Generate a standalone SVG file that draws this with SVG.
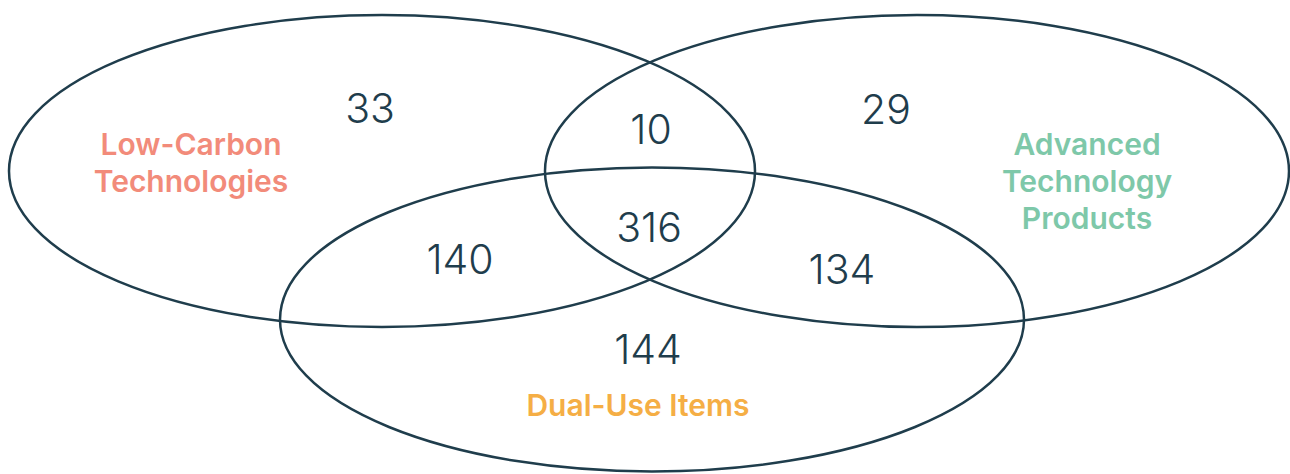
<svg xmlns="http://www.w3.org/2000/svg" width="1290" height="474" viewBox="0 0 1290 474">
<style>
.set{fill:none;stroke:#1f3d4c;stroke-width:2.5}
.num{font-family:Inter,"Liberation Sans",sans-serif;font-weight:300;font-size:41px;fill:#1f3d4c;text-anchor:middle}
.lbl{font-family:Inter,"Liberation Sans",sans-serif;font-weight:600;font-size:30px;text-anchor:middle}
</style>
<rect width="1290" height="474" fill="#ffffff"/>
<g id="set-low-carbon">
<ellipse class="set" cx="382" cy="171" rx="373" ry="156"/>
<text class="lbl" fill="#f28b7a" x="191" y="155">Low-Carbon</text>
<text class="lbl" fill="#f28b7a" x="191" y="192">Technologies</text>
</g>
<g id="set-advanced">
<ellipse class="set" cx="917" cy="171" rx="372" ry="156"/>
<text class="lbl" fill="#7ec8a9" x="1087" y="155">Advanced</text>
<text class="lbl" fill="#7ec8a9" x="1087" y="192">Technology</text>
<text class="lbl" fill="#7ec8a9" x="1087" y="229">Products</text>
</g>
<g id="set-dual-use">
<ellipse class="set" cx="652" cy="319.5" rx="372" ry="152"/>
<text class="lbl" fill="#f5ae45" x="638" y="416">Dual-Use Items</text>
</g>
<g id="counts">
<text class="num" x="370" y="123">33</text>
<text class="num" x="651" y="144">10</text>
<text class="num" x="886" y="124">29</text>
<text class="num" x="649" y="242">316</text>
<text class="num" x="460" y="274">140</text>
<text class="num" x="842" y="284">134</text>
<text class="num" x="648" y="364">144</text>
</g>
<g id="connectors"/>
</svg>
